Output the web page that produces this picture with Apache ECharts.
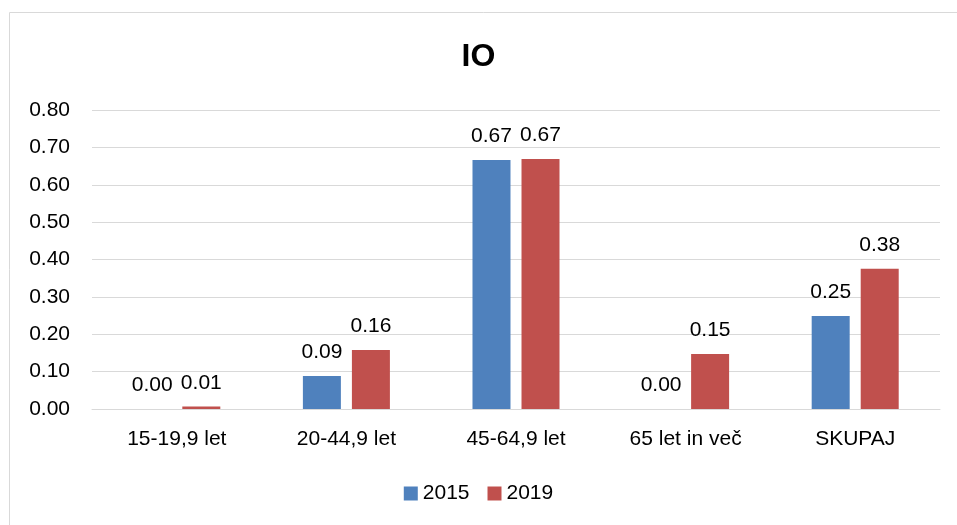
<!DOCTYPE html>
<html>
<head>
<meta charset="utf-8">
<script src="https://cdn.jsdelivr.net/npm/echarts@6/dist/echarts.min.js"></script>
<style>
  html, body { margin: 0; padding: 0; background: #fff; }
  #chart { width: 957px; height: 525px; }
</style>
</head>
<body>
<div id="chart"></div>
<script>
// podatki
var categories = ['15-19,9 let', '20-44,9 let', '45-64,9 let', '65 let in več', 'SKUPAJ'];
var values2015 = [0.0, 0.088, 0.666, 0.0, 0.249];
var values2019 = [0.007, 0.158, 0.669, 0.147, 0.375];
var yTicks = [0, 0.1, 0.2, 0.3, 0.4, 0.5, 0.6, 0.7, 0.8];

var font = 'Liberation Sans';
var chart = echarts.init(document.getElementById('chart'));

var labelStyle = {
    show: true,
    position: 'top',
    distance: 13,
    color: '#000',
    fontSize: 21,
    fontFamily: font,
    formatter: function (p) { return p.value.toFixed(2); }
};

chart.setOption({
    animation: false,
    title: {
        text: 'IO',
        left: 'center',
        top: 36,
        textStyle: { fontFamily: font, fontSize: 32, fontWeight: 'bold', color: '#000' }
    },
    graphic: [{
        type: 'rect',
        shape: { x: 9.5, y: 12.5, width: 960, height: 530 },
        style: { fill: 'none', stroke: '#d9d9d9', lineWidth: 1 }
    }],
    legend: {
        bottom: 16,
        left: 'center',
        icon: 'rect',
        itemWidth: 14,
        itemHeight: 14,
        itemGap: 18,
        textStyle: { fontFamily: font, fontSize: 21, color: '#000' },
        data: ['2015', '2019']
    },
    grid: { left: 92, right: 17, top: 110, bottom: 116, containLabel: false },
    xAxis: {
        type: 'category',
        data: categories,
        axisLine: { lineStyle: { color: '#d9d9d9', width: 1 } },
        axisTick: { show: false },
        axisLabel: { color: '#000', fontSize: 21, fontFamily: font, margin: 20 }
    },
    yAxis: {
        type: 'value',
        min: yTicks[0],
        max: yTicks[yTicks.length - 1],
        interval: 0.1,
        axisLine: { show: false },
        axisTick: { show: false },
        splitLine: { lineStyle: { color: '#d9d9d9', width: 1 } },
        axisLabel: {
            color: '#000', fontSize: 21, fontFamily: font, margin: 22,
            formatter: function (v) { return v.toFixed(2); }
        }
    },
    series: [
        {
            name: '2015', type: 'bar', data: values2015,
            barWidth: 38, barGap: '29%',
            itemStyle: { color: '#4F81BD' },
            label: labelStyle
        },
        {
            name: '2019', type: 'bar', data: values2019,
            barWidth: 38,
            itemStyle: { color: '#C0504D' },
            label: labelStyle
        }
    ]
});
</script>
</body>
</html>
